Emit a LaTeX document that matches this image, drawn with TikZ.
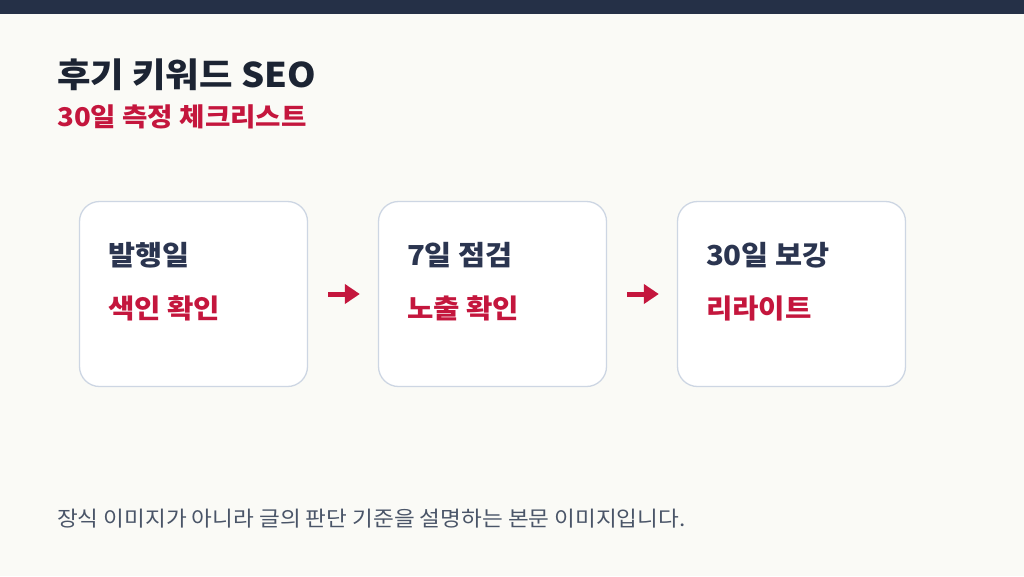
\documentclass[tikz,border=0pt]{standalone}
\usepackage{fontspec}
\setmainfont{Noto Sans CJK KR}[FakeStretch=1.07]
\usetikzlibrary{positioning,arrows.meta}
\definecolor{bar}{HTML}{253047}
\definecolor{paper}{HTML}{FAFAF6}
\definecolor{ink}{HTML}{1C2433}
\definecolor{cardink}{HTML}{2B3550}
\definecolor{accent}{HTML}{C4163D}
\definecolor{cardline}{HTML}{CDD6E3}
\definecolor{note}{HTML}{4A5568}
\tikzset{
    card/.style =   {rectangle,
                    rounded corners=20pt,
                    fill=white,
                    draw=cardline,
                    line width=1.3pt,
                    minimum width=228pt,
                    minimum height=185pt},
    head/.style =   {anchor=base west,
                    inner sep=0pt,
                    text=cardink,
                    font=\fontsize{27.5}{32}\selectfont\bfseries},
    sub/.style =    {anchor=base west,
                    inner sep=0pt,
                    text=accent,
                    font=\fontsize{26.8}{32}\selectfont\bfseries},
    flow/.style =   {draw=accent,
                    line width=5pt,
                    -{Triangle[length=15pt,width=19pt]},
                    shorten <=20pt,
                    shorten >=18pt}}

\begin{document}
\begin{tikzpicture}[x=1pt,y=-1pt]
    \useasboundingbox (0,0) rectangle (1024,576);
    \fill[paper] (0,0) rectangle (1024,576);
    \fill[bar] (0,0) rectangle (1024,14);

    \node[anchor=base west,inner sep=0pt,text=ink,
          font=\fontsize{34}{38}\selectfont\bfseries] (title) at (57,87) {후기 키워드 SEO};
    \node[anchor=base west,inner sep=0pt,text=accent,
          font=\fontsize{25.8}{30}\selectfont\bfseries] (subtitle) at (57,126) {30일 측정 체크리스트};

    \node[card]     (b1) at (193.5,294)     {};
    \node[card]     (b2) [right=69.7pt of b1] {};
    \node[card]     (b3) [right=69.7pt of b2] {};

    \foreach \b/\h/\s in {b1/발행일/색인 확인, b2/7일 점검/노출 확인, b3/30일 보강/리라이트} {
        \node[head] (\b h) at ([shift={(29,65)}]\b.north west) {\h};
        \node[sub]  (\b s) at ([shift={(29,118)}]\b.north west) {\s};
    }

    \path   (b1) edge [flow] (b2)
            (b2) edge [flow] (b3);

    \node[anchor=base west,inner sep=0pt,text=note,
          font=\fontsize{21.1}{25}\selectfont] (footer) at (57,526) {장식 이미지가 아니라 글의 판단 기준을 설명하는 본문 이미지입니다.};
\end{tikzpicture}
\end{document}
